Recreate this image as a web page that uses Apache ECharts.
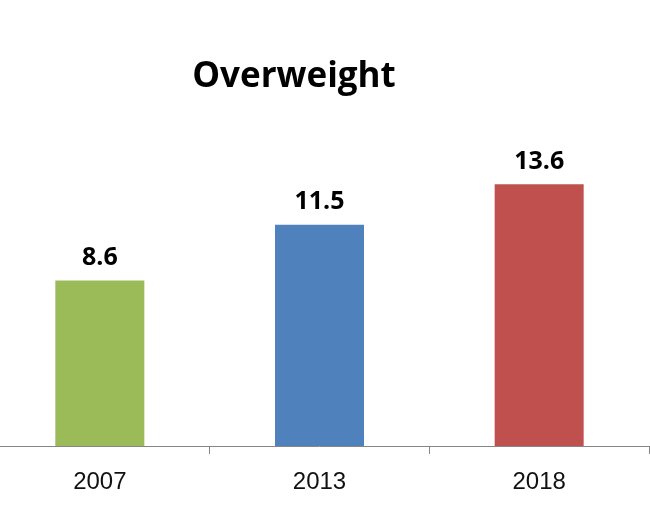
<!DOCTYPE html>
<html>
<head>
<meta charset="utf-8">
<script src="https://cdn.jsdelivr.net/npm/echarts@6/dist/echarts.min.js"></script>
<style>
  html, body { margin: 0; padding: 0; background: #fff; overflow: hidden; }
  /* plot starts a little left of the page, like the cropped original */
  #chart { width: 660px; height: 524px; margin-left: -10px; }
</style>
</head>
<body>
<div id="chart"></div>
<script>
const years = ['2007', '2013', '2018']
const overweight = [8.6, 11.5, 13.6]
const barColors = ['#9BBB59', '#4F81BD', '#C0504D']

const chart = echarts.init(document.getElementById('chart'))
chart.setOption({
  animation: false,
  title: {
    text: 'Overweight',
    left: 299,
    top: 55,
    textAlign: 'center',
    textStyle: {
      fontFamily: 'Open Sans',
      fontWeight: 'bold',
      fontSize: 35,
      color: '#000'
    }
  },
  grid: { left: 0, right: 1, top: 138, bottom: 78 },
  xAxis: {
    type: 'category',
    data: years,
    axisLine: { lineStyle: { color: '#868686', width: 1 } },
    axisTick: { show: true, length: 8, lineStyle: { color: '#868686' } },
    axisLabel: {
      fontFamily: 'Liberation Sans',
      fontSize: 24,
      color: '#111',
      margin: 24
    }
  },
  yAxis: {
    type: 'value',
    min: 0,
    max: 16,
    show: false,
    splitLine: { show: false }
  },
  series: [
    {
      type: 'bar',
      barWidth: 89,
      data: overweight.map((v, i) => ({ value: v, itemStyle: { color: barColors[i] } })),
      label: {
        show: true,
        position: 'top',
        distance: 10,
        fontFamily: 'Open Sans',
        fontWeight: 'bold',
        fontSize: 25,
        color: '#000'
      }
    }
  ]
})
</script>
</body>
</html>
